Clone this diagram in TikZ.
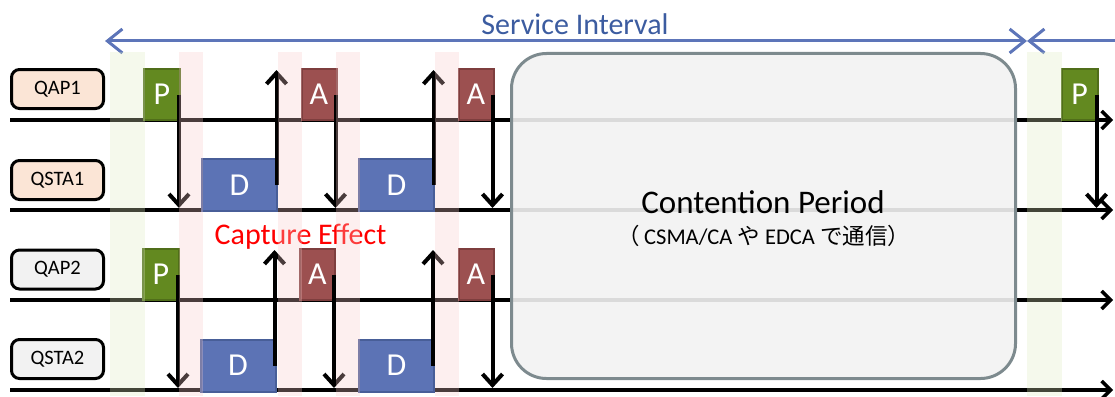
\documentclass[tikz,border=0pt]{standalone}
\usepackage{fontspec}
\setmainfont{Carlito}
\newfontfamily\jp{Noto Sans CJK JP}
\usetikzlibrary{arrows.meta}

\definecolor{siline}{RGB}{93,117,185}
\definecolor{sitext}{RGB}{60,92,160}
\definecolor{peach}{RGB}{251,229,214}
\definecolor{lightgray}{RGB}{242,242,242}
\definecolor{pfill}{RGB}{99,137,32}
\definecolor{pdraw}{RGB}{80,110,26}
\definecolor{afill}{RGB}{156,80,80}
\definecolor{adraw}{RGB}{126,62,62}
\definecolor{dfill}{RGB}{92,115,181}
\definecolor{ddraw}{RGB}{72,94,152}
\definecolor{cpdraw}{RGB}{125,138,142}
\definecolor{bandgreen}{RGB}{222,235,192}
\definecolor{bandpink}{RGB}{248,202,202}

\tikzset{
  sitip/.tip={Straight Barb[length=15pt,width=24pt,line width=3pt]},
  lanetip/.tip={Straight Barb[length=9pt,width=18pt,line width=3.5pt]},
  msgtip/.tip={Straight Barb[length=11pt,width=20pt,line width=4pt]}
}

\begin{document}
\begin{tikzpicture}[x=1pt,y=-1pt,
  lanelbl/.style={draw=black, line width=3pt, rounded corners=8pt,
    minimum width=92pt, minimum height=39pt, inner sep=0pt,
    font=\fontsize{20.5}{20.5}\selectfont},
  laneline/.style={line width=4pt, -lanetip},
  frame/.style={line width=2pt, inner sep=0pt, text=white,
    font=\fontsize{32}{32}\selectfont},
  pbox/.style={frame, fill=pfill, draw=pdraw, minimum width=36pt, minimum height=51pt},
  abox/.style={frame, fill=afill, draw=adraw, minimum width=35pt, minimum height=51pt},
  dbox/.style={frame, fill=dfill, draw=ddraw, minimum width=75pt, minimum height=52pt},
  msg/.style={line width=4pt, -msgtip},
  siarrow/.style={draw=siline, line width=3pt},
  greenband/.style={fill=bandgreen, opacity=0.3},
  pinkband/.style={fill=bandpink, opacity=0.3}]
\useasboundingbox (0,0) rectangle (1115,396);

% service interval
\coordinate (sia) at (105,41);
\coordinate (sib) at (1027,41);
\coordinate (sic) at (1130,41);
\draw[siarrow, sitip-sitip] (sia) -- (sib);
\draw[siarrow, sitip-] (sib) -- (sic);
\node[text=sitext, anchor=base, font=\fontsize{30}{30}\selectfont] (sitxt) at (575,35) {Service Interval};

% station labels
\node[lanelbl, fill=peach] (qap1) at (57.5,89) {QAP1};
\node[lanelbl, fill=peach] (qsta1) at (57.5,180) {QSTA1};
\node[lanelbl, fill=lightgray] (qap2) at (57.5,269.5) {QAP2};
\node[lanelbl, fill=lightgray] (qsta2) at (57.5,359) {QSTA2};

% time lines
\coordinate (l1s) at (10,120);  \coordinate (l1e) at (1113,120);
\coordinate (l2s) at (10,210);  \coordinate (l2e) at (1113,210);
\coordinate (l3s) at (10,300);  \coordinate (l3e) at (1113,300);
\coordinate (l4s) at (10,390);  \coordinate (l4e) at (1113,390);
\draw[laneline] (l1s) -- (l1e);
\draw[laneline] (l2s) -- (l2e);
\draw[laneline] (l3s) -- (l3e);
\draw[laneline] (l4s) -- (l4e);

% contention period
\node[draw=cpdraw, line width=3pt, fill=lightgray, fill opacity=0.9, text opacity=1,
  rounded corners=35pt, minimum width=504pt, minimum height=325pt] (cp) at (763.5,216) {};
\node[anchor=base, font=\fontsize{33}{33}\selectfont] (cptxt) at (763,213) {Contention Period};
\node[anchor=base, font=\fontsize{22.5}{22.5}\selectfont] (cpsub) at (764,244)
  {{\jp （}\,CSMA/CA {\jp や} EDCA {\jp で通信）}};

% frames
\node[pbox] (p1) at (162,94.5) {P};
\node[abox] (a1) at (319,94.5) {A};
\node[abox] (a2) at (476,94.5) {A};
\node[pbox] (p1r) at (1079.5,94.5) {P};
\node[dbox] (d1) at (239.5,185) {D};
\node[dbox] (d2) at (396.5,185) {D};
\node[pbox] (p2) at (161,274.5) {P};
\node[abox] (a3) at (317.5,274.5) {A};
\node[abox] (a4) at (476,274.5) {A};
\node[dbox] (d3) at (238,365.5) {D};
\node[dbox] (d4) at (396.5,365.5) {D};

\node[text=red, anchor=base, font=\fontsize{30}{30}\selectfont] (capt) at (300.5,244) {Capture Effect};

% arrow reference heights
\coordinate (top1) at (0,70);
\coordinate (bot1) at (0,208);
\coordinate (top2) at (0,250);
\coordinate (bot2) at (0,388);

% arrow start points
\coordinate (p1o) at ([xshift=-2pt]p1.east);
\coordinate (a1o) at ([xshift=-2pt]a1.east);
\coordinate (a2o) at ([xshift=-2pt]a2.east);
\coordinate (p1ro) at ([xshift=-2pt]p1r.east);
\coordinate (d1o) at ([xshift=-1.5pt]d1.east);
\coordinate (d2o) at ([xshift=-1.5pt]d2.east);
\coordinate (p2o) at ([xshift=-2pt]p2.east);
\coordinate (a3o) at ([xshift=-2pt]a3.east);
\coordinate (a4o) at ([xshift=-2pt]a4.east);
\coordinate (d3o) at ([xshift=-2pt]d3.east);
\coordinate (d4o) at ([xshift=-2pt]d4.east);

\draw[msg] (p1o) -- (p1o |- bot1);
\draw[msg] (d1o) -- (d1o |- top1);
\draw[msg] (a1o) -- (a1o |- bot1);
\draw[msg] (d2o) -- (d2o |- top1);
\draw[msg] (a2o) -- (a2o |- bot1);
\draw[msg] (p1ro) -- (p1ro |- bot1);
\draw[msg] (p2o) -- (p2o |- bot2);
\draw[msg] (d3o) -- (d3o |- top2);
\draw[msg] (a3o) -- (a3o |- bot2);
\draw[msg] (d4o) -- (d4o |- top2);
\draw[msg] (a4o) -- (a4o |- bot2);

% guard bands
\fill[greenband] (110,52) rectangle (145,396);
\fill[greenband] (1027,52) rectangle (1062,396);
\fill[pinkband] (179,52) rectangle (203,396);
\fill[pinkband] (278,52) rectangle (302,396);
\fill[pinkband] (336,52) rectangle (360,396);
\fill[pinkband] (435,52) rectangle (459,396);
\end{tikzpicture}
\end{document}
